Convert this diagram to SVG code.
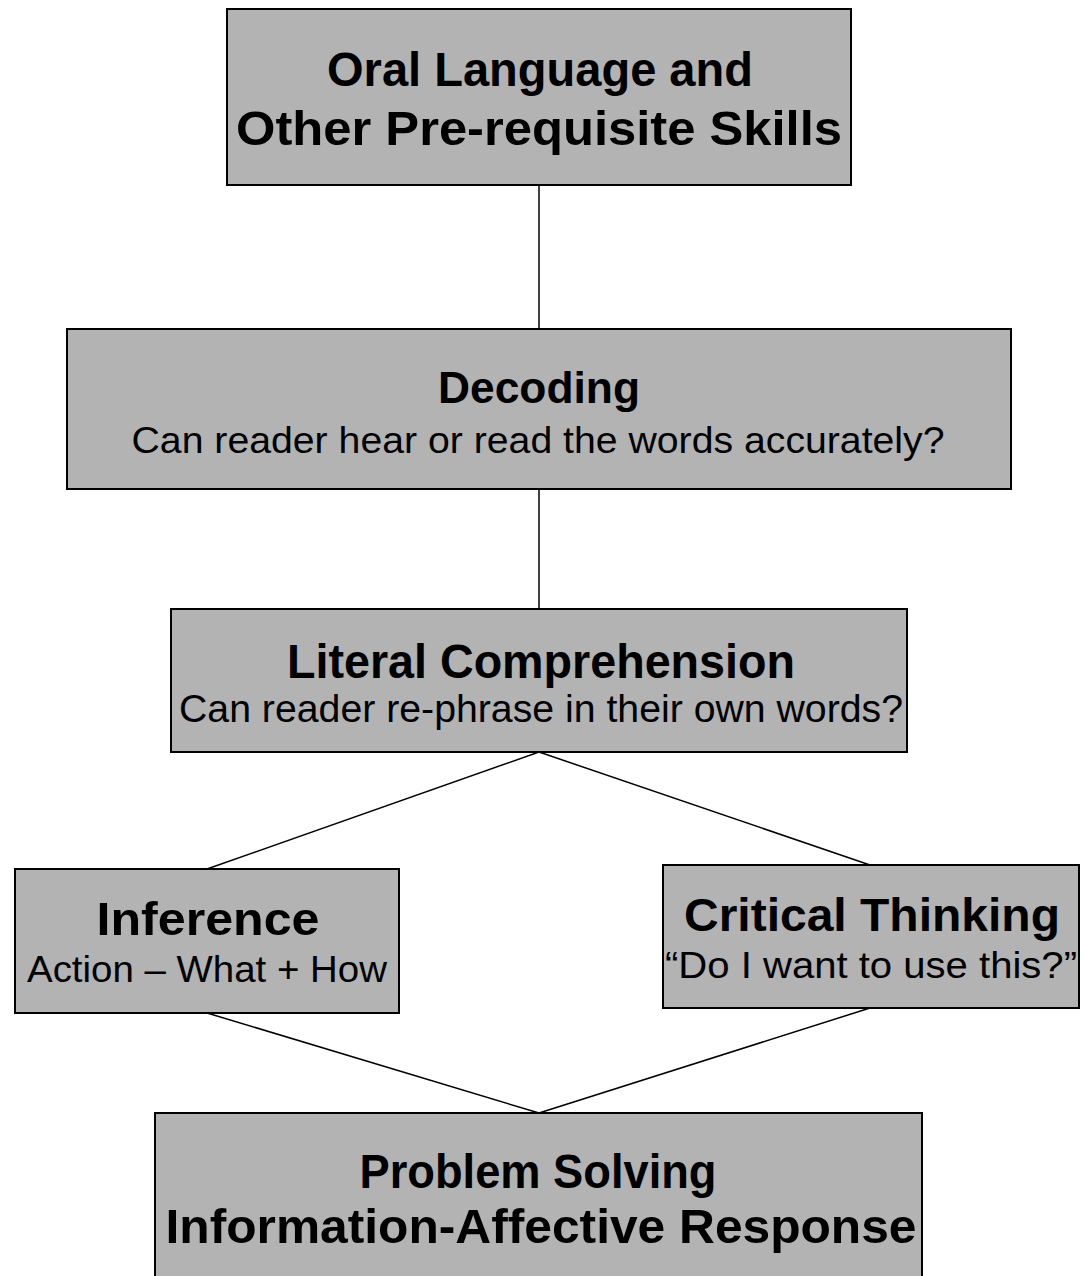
<svg xmlns="http://www.w3.org/2000/svg" width="1086" height="1276" viewBox="0 0 1086 1276">
<style>
.box{fill:#b3b3b3;stroke:#000;stroke-width:2}
.t{font-family:"Liberation Sans",Arial,sans-serif;fill:#000;text-anchor:middle}
.b{font-weight:bold}
.edge{stroke:#000;stroke-width:1.5;fill:none}
</style>
<rect width="1086" height="1276" fill="#fff"/>
<g id="connectors">
<line class="edge" x1="539" y1="185" x2="539" y2="329"/>
<line class="edge" x1="539" y1="489" x2="539" y2="609"/>
<line class="edge" x1="539" y1="752" x2="207" y2="869"/>
<line class="edge" x1="539" y1="752" x2="870" y2="865"/>
<line class="edge" x1="207" y1="1013" x2="539" y2="1113"/>
<line class="edge" x1="870" y1="1008" x2="539" y2="1113"/>
</g>
<g id="oral">
<rect class="box" x="227" y="9" width="624" height="176"/>
<text class="t b" x="540" y="86" font-size="48" textLength="426" lengthAdjust="spacingAndGlyphs">Oral Language and</text>
<text class="t b" x="539" y="145" font-size="48" textLength="606" lengthAdjust="spacingAndGlyphs">Other Pre-requisite Skills</text>
</g>
<g id="decoding">
<rect class="box" x="67" y="329" width="944" height="160"/>
<text class="t b" x="539" y="403" font-size="45" textLength="202" lengthAdjust="spacingAndGlyphs">Decoding</text>
<text class="t" x="538" y="453" font-size="37" textLength="813" lengthAdjust="spacingAndGlyphs">Can reader hear or read the words accurately?</text>
</g>
<g id="literal">
<rect class="box" x="171" y="609" width="736" height="143"/>
<text class="t b" x="541" y="678" font-size="48" textLength="508" lengthAdjust="spacingAndGlyphs">Literal Comprehension</text>
<text class="t" x="541" y="722" font-size="38" textLength="724" lengthAdjust="spacingAndGlyphs">Can reader re-phrase in their own words?</text>
</g>
<g id="inference">
<rect class="box" x="15" y="869" width="384" height="144"/>
<text class="t b" x="208" y="935" font-size="46" textLength="223" lengthAdjust="spacingAndGlyphs">Inference</text>
<text class="t" x="207" y="982" font-size="36" textLength="360" lengthAdjust="spacingAndGlyphs">Action – What + How</text>
</g>
<g id="critical">
<rect class="box" x="663" y="865" width="416" height="143"/>
<text class="t b" x="872" y="931" font-size="46" textLength="376" lengthAdjust="spacingAndGlyphs">Critical Thinking</text>
<text class="t" x="871" y="978" font-size="36" textLength="412" lengthAdjust="spacingAndGlyphs">“Do I want to use this?”</text>
</g>
<g id="problem">
<rect class="box" x="155" y="1113" width="767" height="170"/>
<text class="t b" x="538" y="1188" font-size="48" textLength="357" lengthAdjust="spacingAndGlyphs">Problem Solving</text>
<text class="t b" x="541" y="1243" font-size="48" textLength="751" lengthAdjust="spacingAndGlyphs">Information-Affective Response</text>
</g>
</svg>
